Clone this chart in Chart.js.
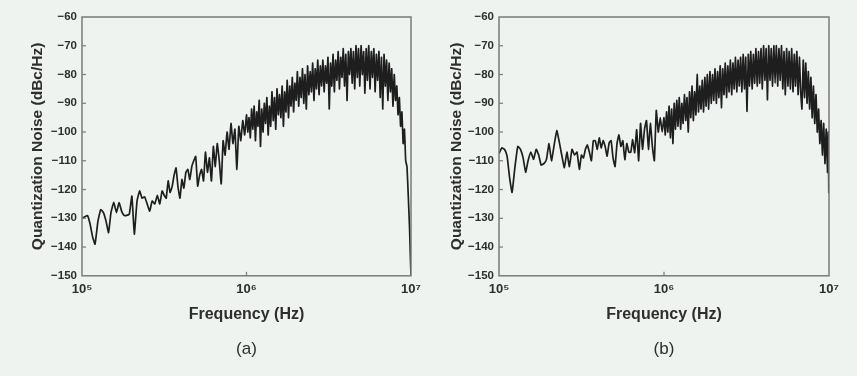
<!DOCTYPE html>
<html>
<head>
<meta charset="utf-8">
<script src="https://cdn.jsdelivr.net/npm/chart.js@4.4.1/dist/chart.umd.min.js"></script>
<style>
  html, body { margin: 0; padding: 0; background: #eef3ef; }
  #wrap { position: relative; width: 857px; height: 376px; background: #eef3ef; overflow: hidden; }
  canvas { position: absolute; top: 0; }
</style>
</head>
<body>
<div id="wrap">
  <canvas id="ca" width="430" height="376" style="left:0px;width:430px;height:376px"></canvas>
  <canvas id="cb" width="427" height="376" style="left:430px;width:427px;height:376px"></canvas>
</div>
<script>
// ---- Data (frequency in kHz, noise in dBc/Hz) ----
const freqLow = [100,104,108,112,116,120,125,130,135,140,145,150,156,162,168,174,180,187,194,201,208,216,224,232,240,249,258,267,277,287,297];
const freqMid = [307,316,325,334,343,353,363,373,383,394,405,416,428,440,452,465,478,491,505,519,533,548,563,579,595,612,629,646,664,683,702,721,741,762,783,805,827,850,874,898,923,949,975];
const freqHigh = [1000,1018,1036,1055,1074,1093,1113,1133,1153,1174,
  1195,1216,1238,1261,1283,1306,1330,1354,1378,1403,
  1428,1454,1480,1506,1533,1561,1589,1618,1647,1676,
  1706,1737,1768,1800,1832,1865,1899,1933,1968,2003,
  2039,2076,2113,2151,2190,2229,2269,2310,2352,2394,
  2437,2481,2526,2571,2617,2664,2712,2761,2811,2861,
  2913,2965,3018,3073,3128,3184,3242,3300,3359,3420,
  3481,3544,3608,3672,3738,3806,3874,3944,4015,4087,
  4161,4235,4312,4389,4468,4549,4631,4714,4799,4885,
  4973,5063,5154,5247,5341,5437,5535,5635,5736,5839,
  5944,6051,6160,6271,6384,6499,6616,6735,6856,6980,
  7105,7233,7363,7496,7631,7768,7908,8050,8195,8343,
  8493,8646,8801,8960,9121,9285,9452,9622,9795,9900,
  9972,10000];

// Panel (a)
const noiseA_low = [-130,-129.5,-129,-132,-136.5,-139,-131,-127,-128,-131,-135,-128,-124.5,-128,-124.5,-127.5,-129,-129,-128.5,-122.3,-135.5,-124,-120.5,-123,-122.5,-125,-127.5,-124,-125,-122,-125];
const noiseA_mid = [-120.5,-122,-123,-117,-121,-119,-115,-112.5,-119,-123,-116.5,-119.5,-114,-113,-116.5,-112,-110,-108.5,-118.8,-115,-113,-117,-107,-114,-109,-117,-105,-112,-104,-110,-118,-103,-108,-100,-106,-97,-104,-99,-113,-98,-103,-96,-101];
const noiseA_high = [-94,-100,-95,-102,-92,-99,-91,-103,-93,-98,
  -89,-105,-92,-100,-90,-97,-88,-101,-91,-98,
  -86,-96,-88,-99,-85,-94,-87,-95,-84,-98,
  -86,-93,-82,-95,-84,-91,-81,-93,-83,-89,
  -79,-91,-81,-88,-78,-90,-80,-92,-77,-87,
  -79,-86,-76,-89,-78,-85,-75,-87,-77,-84,
  -75,-86,-77,-83,-74,-92,-76,-84,-73,-86,
  -75,-82,-72,-85,-74,-81,-71,-84,-73,-89,
  -72,-80,-71,-83,-72,-85,-70,-81,-71,-84,
  -70,-80,-72,-86.5,-71,-82,-70,-85,-72,-81,
  -71,-86,-73,-82,-72,-88,-74,-92,-73,-84,
  -75,-89,-76,-86,-78,-91,-80,-89,-84,-94,
  -88,-98,-93,-104,-99,-110,-112,-122,-133,-142,
  -148,-150];

// Panel (b)
const noiseB_low = [-107.5,-105.5,-106,-108.5,-116,-121,-112,-105,-106,-109,-114,-110,-107,-109.5,-106,-108,-111.5,-111,-109.5,-104,-110,-104.5,-99.5,-103.5,-108,-112.4,-107,-112,-106,-108,-107];
const noiseB_mid = [-113,-108,-109,-106,-104.5,-107,-110,-103,-103,-106,-102,-105.5,-103,-105,-108.4,-103.8,-103,-109,-112,-104,-101,-105,-103,-109.6,-104,-107,-107,-102.6,-107.2,-99.2,-110,-97,-106,-99,-96,-106,-97,-105,-110,-92.5,-100,-95,-100];
const noiseB_high = [-95,-101,-93,-100,-91,-102,-92,-104,-90,-99,
  -89,-98,-88,-99,-90,-97,-87,-96,-88,-100,
  -86,-95,-84,-96,-86,-94,-80,-93,-84,-92,
  -82,-93,-81,-91,-80,-92,-79,-90,-80,-89,
  -78,-90,-79,-88,-77,-91.5,-78,-87,-76,-88,
  -77,-86,-75,-87,-76,-85,-74,-86,-75,-84,
  -74,-86,-73,-85,-74,-92.8,-73,-84,-72,-85,
  -73,-83,-71,-84,-72,-83,-71,-85,-70,-82,
  -71,-88.8,-70,-82,-71,-84,-70,-83,-70,-84,
  -71,-82,-70,-85,-72,-87,-71,-84,-72,-85,
  -71,-86,-73,-84,-72,-87,-74,-86,-92,-75,
  -88,-76,-90,-79,-92,-81,-95,-84,-97,-87,
  -100,-92,-104,-96,-108,-97,-111,-99,-114,-100,
  -121,-113];

const yTicks = [-150,-140,-130,-120,-110,-100,-90,-80,-70,-60];
const xTicks = [1e5, 1e6, 1e7];
const xTickLabels = ['10\u2075', '10\u2076', '10\u2077'];
const xTitle = 'Frequency (Hz)';
const yTitle = 'Quantization Noise (dBc/Hz)';

const freqKHz = freqLow.concat(freqMid, freqHigh);
const seriesA = noiseA_low.concat(noiseA_mid, noiseA_high);
const seriesB = noiseB_low.concat(noiseB_mid, noiseB_high);

const TXT = '#2e2e2e';
const FONT = "'Liberation Sans', Arial, sans-serif";

const framePlugin = {
  id: 'frame',
  afterDatasetsDraw(chart) {
    const { ctx, chartArea: { left, top, right, bottom }, scales: { x, y } } = chart;
    ctx.save();
    ctx.strokeStyle = '#7a7a7a';
    ctx.lineWidth = 1.5;
    ctx.strokeRect(left, top, right - left, bottom - top);
    ctx.lineWidth = 1.2;
    y.ticks.forEach(t => {
      if (t.value > -150 && t.value < -60) {
        const py = y.getPixelForValue(t.value);
        ctx.beginPath(); ctx.moveTo(left, py); ctx.lineTo(left + 4, py); ctx.stroke();
      }
    });
    x.ticks.forEach(t => {
      if (t.value > 1e5 && t.value < 1e7) {
        const px = x.getPixelForValue(t.value);
        ctx.beginPath(); ctx.moveTo(px, bottom); ctx.lineTo(px, bottom - 4); ctx.stroke();
      }
    });
    ctx.restore();
  }
};

function makeChart(id, series, label, cfg) {
  const pts = freqKHz.map((f, i) => ({ x: f * 1000, y: series[i] }));
  return new Chart(document.getElementById(id), {
    type: 'line',
    data: { datasets: [{
      data: pts,
      borderColor: '#1e1e1e',
      borderWidth: 1.7,
      pointRadius: 0,
      tension: 0.12,
      fill: false
    }] },
    options: {
      responsive: false,
      animation: false,
      devicePixelRatio: 1,
      layout: { padding: { left: 0, right: cfg.padRight, top: 17, bottom: 16.4 } },
      plugins: {
        legend: { display: false },
        tooltip: { enabled: false },
        title: {
          display: true, text: label, position: 'bottom', fullSize: false,
          color: TXT, font: { family: FONT, size: 17, weight: 'normal' },
          padding: { top: 0, bottom: 0 }
        }
      },
      scales: {
        x: {
          type: 'logarithmic',
          min: 1e5, max: 1e7,
          afterBuildTicks: s => { s.ticks = xTicks.map(v => ({ value: v })); },
          afterFit: s => { s.height = 63.4; },
          grid: { display: false, drawTicks: false },
          border: { display: false },
          ticks: {
            autoSkip: false, maxRotation: 0, padding: 6,
            color: TXT, font: { family: FONT, size: 13, weight: 'bold' },
            callback: v => xTickLabels[xTicks.indexOf(v)] ?? ''
          },
          title: {
            display: true, text: xTitle, color: TXT,
            font: { family: FONT, size: 16, weight: 'bold' },
            padding: { top: 0, bottom: 14.8 }
          }
        },
        y: {
          min: -150, max: -60,
          afterBuildTicks: s => { s.ticks = yTicks.map(v => ({ value: v })); },
          afterFit: s => { s.width = cfg.yWidth; },
          grid: { display: false, drawTicks: false },
          border: { display: false },
          ticks: {
            padding: 5, color: TXT,
            font: { family: FONT, size: 11.5, weight: 'bold' },
            callback: v => (v < 0 ? '\u2212' + Math.abs(v) : String(v))
          },
          title: {
            display: true, text: yTitle, color: TXT,
            font: { family: FONT, size: 15.5, weight: 'bold' },
            padding: { top: cfg.yTitlePad, bottom: 0 }
          }
        }
      }
    },
    plugins: [framePlugin]
  });
}

makeChart('ca', seriesA, '(a)', { padRight: 19, yWidth: 82, yTitlePad: 28.7 });
makeChart('cb', seriesB, '(b)', { padRight: 28, yWidth: 69, yTitlePad: 17.4 });
</script>
</body>
</html>
